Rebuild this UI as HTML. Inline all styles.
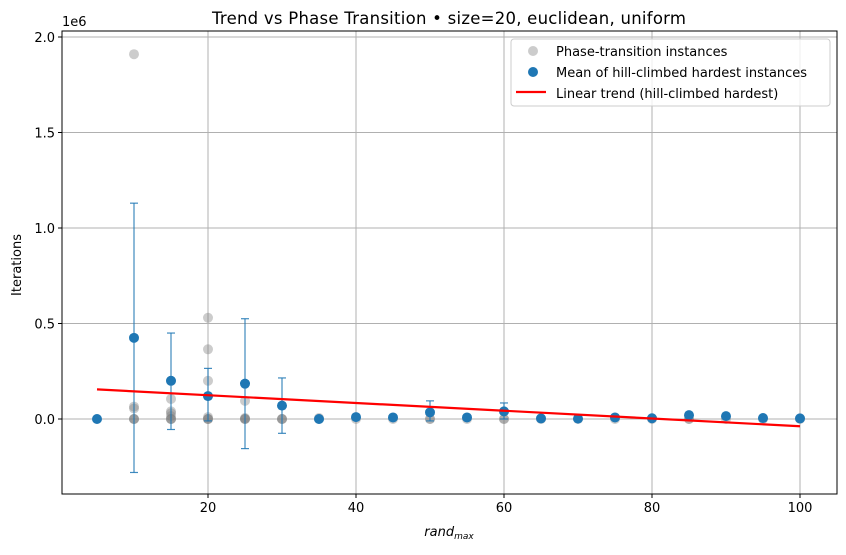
<!DOCTYPE html>
<html><head><meta charset="utf-8"><style>
body{margin:0;background:#fff;font-family:"DejaVu Sans","Liberation Sans",sans-serif;}
svg text{font-family:"DejaVu Sans","Liberation Sans",sans-serif;}
</style></head><body>
<svg id="chart" width="846" height="551" xmlns="http://www.w3.org/2000/svg"></svg>
<script>
const xCats=[5,10,15,20,25,30,35,40,45,50,55,60,65,70,75,80,85,90,95,100];
const meanVals=[0,0.425,0.2,0.12,0.185,0.07,0,0.01,0.008,0.035,0.008,0.04,0.003,0.002,0.008,0.004,0.02,0.015,0.005,0.003];
const errLow=[0,-0.28,-0.055,-0.01,-0.155,-0.075,0,0,0,-0.01,0,0,0,0,0,0,0,0,0,0];
const errHigh=[0,1.13,0.45,0.265,0.525,0.215,0,0,0,0.095,0,0.084,0,0,0,0,0,0,0,0];
const phaseX=[10,10,10,10,10,10,15,15,15,15,15,15,15,20,20,20,20,20,20,20,25,25,25,25,25,30,30,30,35,35,40,45,50,50,55,60,60,65,70,75,80,85,85,90,95,100];
const phaseY=[1.91,0.065,0.055,0,0,0,0.105,0.04,0.03,0.015,0,0,0,0.53,0.365,0.2,0.01,0,0,0,0.095,0.005,0,0,0,0,0,0,0.005,0,0,0,0,0,0,0,0,0,0,0,0,0,0,0,0,0];
const trendX=[5,100];
const trendY=[0.155,-0.038];
const xTicks=[20,40,60,80,100];
const yTicks=[0,0.5,1.0,1.5,2.0];
const yTickLabels=["0.0","0.5","1.0","1.5","2.0"];

const L=62,R=837,T=31,B=494;
const sx=v=>208+(v-20)*7.4;
const sy=v=>419-v*191;
const svg=document.getElementById('chart');
const NS='http://www.w3.org/2000/svg';
function mk(tag,attrs,parent){const e=document.createElementNS(NS,tag);for(const k in attrs)e.setAttribute(k,attrs[k]);(parent||svg).appendChild(e);return e;}

const grid=mk('g',{});


xTicks.forEach(t=>{const l=mk('line',{x1:sx(t),x2:sx(t),y1:T,y2:B,stroke:'#b0b0b0','stroke-width':1},grid);});
yTicks.forEach(t=>{const l=mk('line',{x1:L,x2:R,y1:sy(t),y2:sy(t),stroke:'#b0b0b0','stroke-width':1},grid);});

const pg=mk('g',{});


phaseX.forEach((x,i)=>{const c=mk('circle',{cx:sx(x),cy:sy(phaseY[i]),r:5,fill:'#808080','fill-opacity':0.4},pg);});

const eg=mk('g',{});


xCats.forEach((x,i)=>{if(errLow[i]===0&&errHigh[i]===0)return;const X=sx(x);
const l=mk('line',{x1:X,x2:X,y1:sy(errLow[i]),y2:sy(errHigh[i]),stroke:'#1f77b4','stroke-width':1.2,'stroke-opacity':0.85},eg);
[errLow[i],errHigh[i]].forEach(v=>{const c=mk('line',{x1:X-4,x2:X+4,y1:sy(v),y2:sy(v),stroke:'#1f77b4','stroke-width':1.2,'stroke-opacity':0.85},eg);});});

const mg=mk('g',{});


xCats.forEach((x,i)=>{const c=mk('circle',{cx:sx(x),cy:sy(meanVals[i]),r:5,fill:'#1f77b4'},mg);});

const tl=mk('line',{x1:sx(trendX[0]),y1:sy(trendY[0]),x2:sx(trendX[1]),y2:sy(trendY[1]),stroke:'#ff0000','stroke-width':2.2});



const fr=mk('rect',{x:L,y:T,width:R-L,height:B-T,fill:'none',stroke:'#000','stroke-width':1});



xTicks.forEach(t=>{const X=sx(t);const l=mk('line',{x1:X,x2:X,y1:B,y2:B+4,stroke:'#000'});
const tx=mk('text',{x:X,y:B+18,'text-anchor':'middle','font-size':13});tx.textContent=t;});
yTicks.forEach((t,i)=>{const Y=sy(t);const l=mk('line',{x1:L-4,x2:L,y1:Y,y2:Y,stroke:'#000'});
const tx=mk('text',{x:L-7,y:Y+5,'text-anchor':'end','font-size':13});tx.textContent=yTickLabels[i];});
</script>
<svg style="position:absolute;left:0;top:0" width="846" height="551">
<text x="62" y="26" font-size="13">1e6</text>
<text x="449" y="24" font-size="16.5" text-anchor="middle" textLength="474">Trend vs Phase Transition  •  size=20, euclidean, uniform</text>
<text x="449" y="536" font-size="13" text-anchor="middle" font-style="italic">rand<tspan font-size="9" dy="3">max</tspan></text>
<text x="21" y="265" font-size="13" text-anchor="middle" transform="rotate(-90 21 265)">Iterations</text>
<g>
<rect x="511" y="39" width="319" height="67" rx="3" fill="#fff" fill-opacity="0.8" stroke="#ccc"/>
<circle cx="533" cy="51" r="5" fill="#808080" fill-opacity="0.4"/>
<text x="556" y="56" font-size="13">Phase-transition instances</text>
<circle cx="533" cy="72" r="5" fill="#1f77b4"/>
<text x="556" y="77" font-size="13">Mean of hill-climbed hardest instances</text>
<line x1="516" x2="546" y1="92" y2="92" stroke="#ff0000" stroke-width="2.2"/>
<text x="556" y="98" font-size="13">Linear trend (hill-climbed hardest)</text>
</g>
</svg>
</body></html>
